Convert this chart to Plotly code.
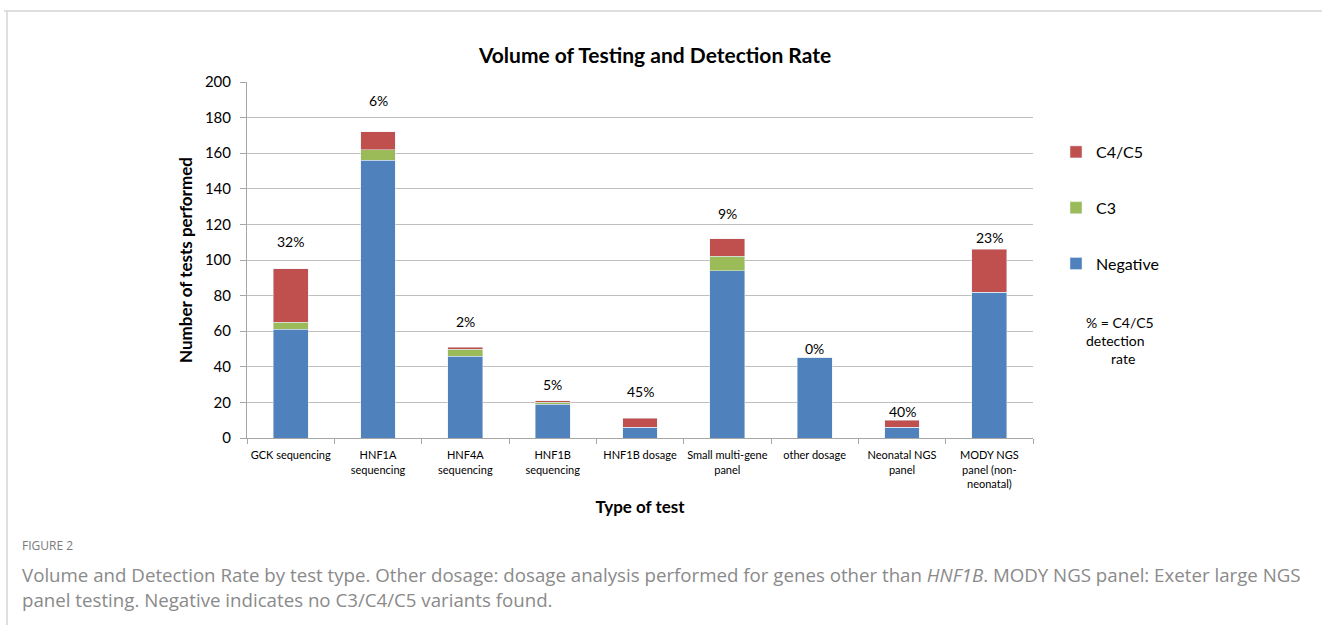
import plotly.graph_objects as go

# Test types and outcome counts
categories = [
    "GCK sequencing", "HNF1A<br>sequencing", "HNF4A<br>sequencing",
    "HNF1B<br>sequencing", "HNF1B dosage", "Small multi-gene<br>panel",
    "other dosage", "Neonatal NGS<br>panel", "MODY NGS<br>panel (non-<br>neonatal)",
]
negative = [61, 156, 46, 19, 6, 94, 45, 6, 82]
c3 = [4, 6, 4, 1, 0, 8, 0, 0, 0]
c4c5 = [30, 10, 1, 1, 5, 10, 0, 4, 24]
rate_labels = ["32%", "6%", "2%", "5%", "45%", "9%", "0%", "40%", "23%"]
y_ticks = [0, 20, 40, 60, 80, 100, 120, 140, 160, 180, 200]

# pixel-based layout helpers
W, H = 1322, 625
L, R, T, B = 247, 1033, 82, 438


def px_x(p):
    return (p - L) / (R - L)


def px_y(p):
    return (B - p) / (B - T)


FONT = "Lato"
BLUE, GREEN, RED = "#4F81BD", "#9BBB59", "#C0504D"

fig = go.Figure()
fig.add_trace(go.Bar(x=categories, y=negative, name="Negative", marker_color=BLUE,
                     width=0.4, legendgroup="neg", legendrank=3))
fig.add_trace(go.Bar(x=categories, y=c3, name="C3", marker_color=GREEN,
                     width=0.4, legendgroup="c3", legendrank=2))
fig.add_trace(go.Bar(x=categories, y=c4c5, name="C4/C5", marker_color=RED,
                     width=0.4, legendgroup="c45", legendrank=1))

# detection-rate labels above each stack
label_lift = [25, 29, 23, 14, 24, 23, 7, 6, 9]
for cat, n, a, b, lab, lift in zip(categories, negative, c3, c4c5, rate_labels, label_lift):
    fig.add_annotation(x=cat, y=n + a + b, text=lab, showarrow=False,
                       yanchor="bottom", yshift=lift - 8,
                       font=dict(family=FONT, size=14, color="#000"))

# explanatory note below the legend
fig.add_annotation(xref="paper", yref="paper", x=px_x(1084), y=px_y(312),
                   xanchor="left", yanchor="top", align="left", showarrow=False,
                   text="% = C4/C5<br>detection<br>\u00a0\u00a0\u00a0\u00a0\u00a0\u00a0\u00a0rate",
                   font=dict(family=FONT, size=14, color="#000"))

# figure caption
CAP = "Open Sans"
fig.add_annotation(xref="paper", yref="paper", x=px_x(20), y=px_y(545),
                   xanchor="left", yanchor="middle", showarrow=False,
                   text="FIGURE 2", font=dict(family=CAP, size=12, color="#7a7a7a"))
fig.add_annotation(xref="paper", yref="paper", x=px_x(20), y=px_y(574),
                   xanchor="left", yanchor="middle", showarrow=False,
                   text="Volume and Detection Rate by test type. Other dosage: dosage analysis "
                        "performed for genes other than <i>HNF1B</i>. MODY NGS panel: Exeter large NGS",
                   font=dict(family=CAP, size=18.7, color="#8a8a8a"))
fig.add_annotation(xref="paper", yref="paper", x=px_x(20), y=px_y(599),
                   xanchor="left", yanchor="middle", showarrow=False,
                   text="panel testing. Negative indicates no C3/C4/C5 variants found.",
                   font=dict(family=CAP, size=18.7, color="#8a8a8a"))

# card border (top and left edges)
fig.add_shape(type="line", xref="paper", yref="paper",
              x0=px_x(4), x1=px_x(W), y0=px_y(11), y1=px_y(11),
              line=dict(color="#d4d4d4", width=1.5))
fig.add_shape(type="line", xref="paper", yref="paper",
              x0=px_x(7), x1=px_x(7), y0=px_y(11), y1=px_y(H),
              line=dict(color="#d4d4d4", width=1.5))

fig.update_layout(
    width=W, height=H,
    margin=dict(l=L, r=W - R, t=T, b=H - B, pad=0),
    barmode="stack",
    paper_bgcolor="white", plot_bgcolor="white",
    title=dict(text="<b>Volume of Testing and Detection Rate</b>",
               x=px_x(655), xref="paper", xanchor="center",
               y=1 - 56 / H, yanchor="middle",
               font=dict(family=FONT, size=21, color="#000")),
    legend=dict(x=px_x(1056), y=px_y(135), xanchor="left", yanchor="top",
                traceorder="grouped", tracegroupgap=32,
                font=dict(family=FONT, size=16, color="#000"),
                bgcolor="rgba(0,0,0,0)"),
    showlegend=True,
)

fig.update_xaxes(
    type="category", showline=True, linecolor="#a6a6a6", linewidth=1,
    ticks="outside", tickson="boundaries", ticklen=5, tickcolor="#a6a6a6",
    tickangle=0, ticklabelstandoff=7,
    tickfont=dict(family=FONT, size=11, color="#000"),
    title=dict(text="<b>Type of test</b>", standoff=12,
               font=dict(family=FONT, size=17, color="#000")),
    showgrid=False,
)
fig.update_yaxes(
    range=[0, 200], tickvals=y_ticks, showline=True, linecolor="#a6a6a6", linewidth=1,
    ticks="outside", ticklen=6, tickcolor="#a6a6a6", ticklabelstandoff=6,
    showgrid=True, gridcolor="#bfbfbf", gridwidth=1,
    tickfont=dict(family=FONT, size=15, color="#000"),
    title=dict(text="<b>Number of tests performed</b>", standoff=7,
               font=dict(family=FONT, size=17, color="#000")),
    zeroline=False,
)

fig.write_html("out.html")
